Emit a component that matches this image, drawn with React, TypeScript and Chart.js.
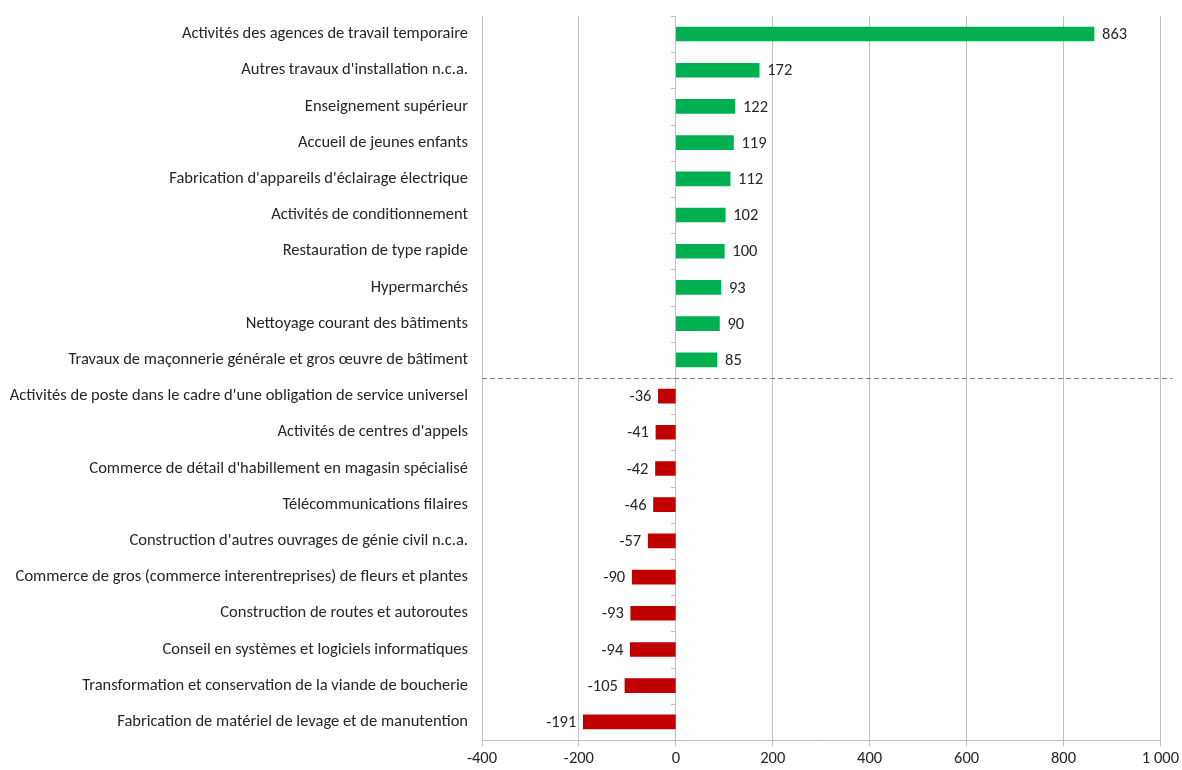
import React, { useEffect, useRef } from "react";
import { Chart, registerables } from "chart.js";

Chart.register(...registerables);

const categories: string[] = [
  "Activités des agences de travail temporaire",
  "Autres travaux d'installation n.c.a.",
  "Enseignement supérieur",
  "Accueil de jeunes enfants",
  "Fabrication d'appareils d'éclairage électrique",
  "Activités de conditionnement",
  "Restauration de type rapide",
  "Hypermarchés",
  "Nettoyage courant des bâtiments",
  "Travaux de maçonnerie générale et gros œuvre de bâtiment",
  "Activités de poste dans le cadre d'une obligation de service universel",
  "Activités de centres d'appels",
  "Commerce de détail d'habillement en magasin spécialisé",
  "Télécommunications filaires",
  "Construction d'autres ouvrages de génie civil n.c.a.",
  "Commerce de gros (commerce interentreprises) de fleurs et plantes",
  "Construction de routes et autoroutes",
  "Conseil en systèmes et logiciels informatiques",
  "Transformation et conservation de la viande de boucherie",
  "Fabrication de matériel de levage et de manutention",
];

const values: number[] = [863, 172, 122, 119, 112, 102, 100, 93, 90, 85, -36, -41, -42, -46, -57, -90, -93, -94, -105, -191];

const xTicks: number[] = [-400, -200, 0, 200, 400, 600, 800, 1000];
const separatorAfterIndex = 9;

const FONT = "Carlito, 'Liberation Sans Narrow', 'DejaVu Sans Condensed', 'Noto Sans', sans-serif";
const FONT_SIZE = 16.5;
const TEXT = "#262626";
const GRID = "#c0c0c0";

function fmt(v: number): string {
  const s = Math.abs(v).toString().replace(/\B(?=(\d{3})+(?!\d))/g, " ");
  return (v < 0 ? "-" : "") + s;
}

const overlayPlugin = {
  id: "overlay",
  afterDatasetsDraw(chart: any) {
    const ctx = chart.ctx;
    const area = chart.chartArea;
    const xs = chart.scales.x;
    const ys = chart.scales.y;
    const x0 = xs.getPixelForValue(0);
    ctx.save();
    ctx.strokeStyle = GRID;
    ctx.lineWidth = 1;
    for (let i = 0; i <= categories.length; i++) {
      const y = Math.round(ys.getPixelForValue(i - 0.5)) + 0.5;
      ctx.beginPath();
      ctx.moveTo(x0 - 5, y);
      ctx.lineTo(x0, y);
      ctx.stroke();
    }
    const ySep = Math.round(ys.getPixelForValue(separatorAfterIndex + 0.5)) + 0.5;
    ctx.strokeStyle = "#7f7f7f";
    ctx.setLineDash([5, 3]);
    ctx.beginPath();
    ctx.moveTo(area.left, ySep);
    ctx.lineTo(area.right + 12, ySep);
    ctx.stroke();
    ctx.setLineDash([]);
    const meta = chart.getDatasetMeta(0);
    ctx.font = `${FONT_SIZE}px ${FONT}`;
    ctx.fillStyle = TEXT;
    ctx.textBaseline = "middle";
    meta.data.forEach((bar: any, i: number) => {
      const v = values[i];
      if (v >= 0) {
        ctx.textAlign = "left";
        ctx.fillText(fmt(v), bar.x + 8, bar.y + 1);
      } else {
        ctx.textAlign = "right";
        ctx.fillText(fmt(v), bar.x - 7, bar.y + 1);
      }
    });
    ctx.restore();
  },
};

export default function App() {
  const ref = useRef<HTMLCanvasElement | null>(null);
  useEffect(() => {
    document.body.style.margin = "0";
    const canvas = ref.current;
    if (!canvas) return;
    const chart = new Chart(canvas, {
      type: "bar",
      data: {
        labels: categories,
        datasets: [
          {
            data: values,
            backgroundColor: values.map((v) => (v >= 0 ? "#00B050" : "#C00000")),
            barThickness: 14,
          },
        ],
      },
      options: {
        indexAxis: "y",
        animation: false,
        responsive: false,
        maintainAspectRatio: false,
        layout: { padding: { top: 5, right: 16, bottom: 0, left: 0 } },
        plugins: { legend: { display: false }, tooltip: { enabled: false } },
        scales: {
          x: {
            type: "linear",
            min: -400,
            max: 1000,
            afterBuildTicks(scale: any) {
              scale.ticks = xTicks.map((v) => ({ value: v }));
            },
            afterFit(scale: any) {
              scale.height = 30;
            },
            grid: { color: GRID, lineWidth: 1, tickLength: 6, drawTicks: true },
            border: { display: true, color: GRID },
            ticks: {
              color: TEXT,
              font: { family: FONT, size: FONT_SIZE },
              padding: 3,
              maxRotation: 0,
              callback: (v: any) => fmt(Number(v)),
            },
          },
          y: {
            type: "category",
            afterFit(scale: any) {
              scale.width = 482;
            },
            grid: { display: false },
            border: { display: false },
            ticks: {
              color: TEXT,
              font: { family: FONT, size: FONT_SIZE },
              padding: 6,
              autoSkip: false,
            },
          },
        },
      },
      plugins: [overlayPlugin],
    });
    return () => chart.destroy();
  }, []);
  return (
    <div style={{ width: 1182, height: 770, background: "#fff" }}>
      <canvas ref={ref} width={1182} height={770} style={{ display: "block" }} />
    </div>
  );
}
